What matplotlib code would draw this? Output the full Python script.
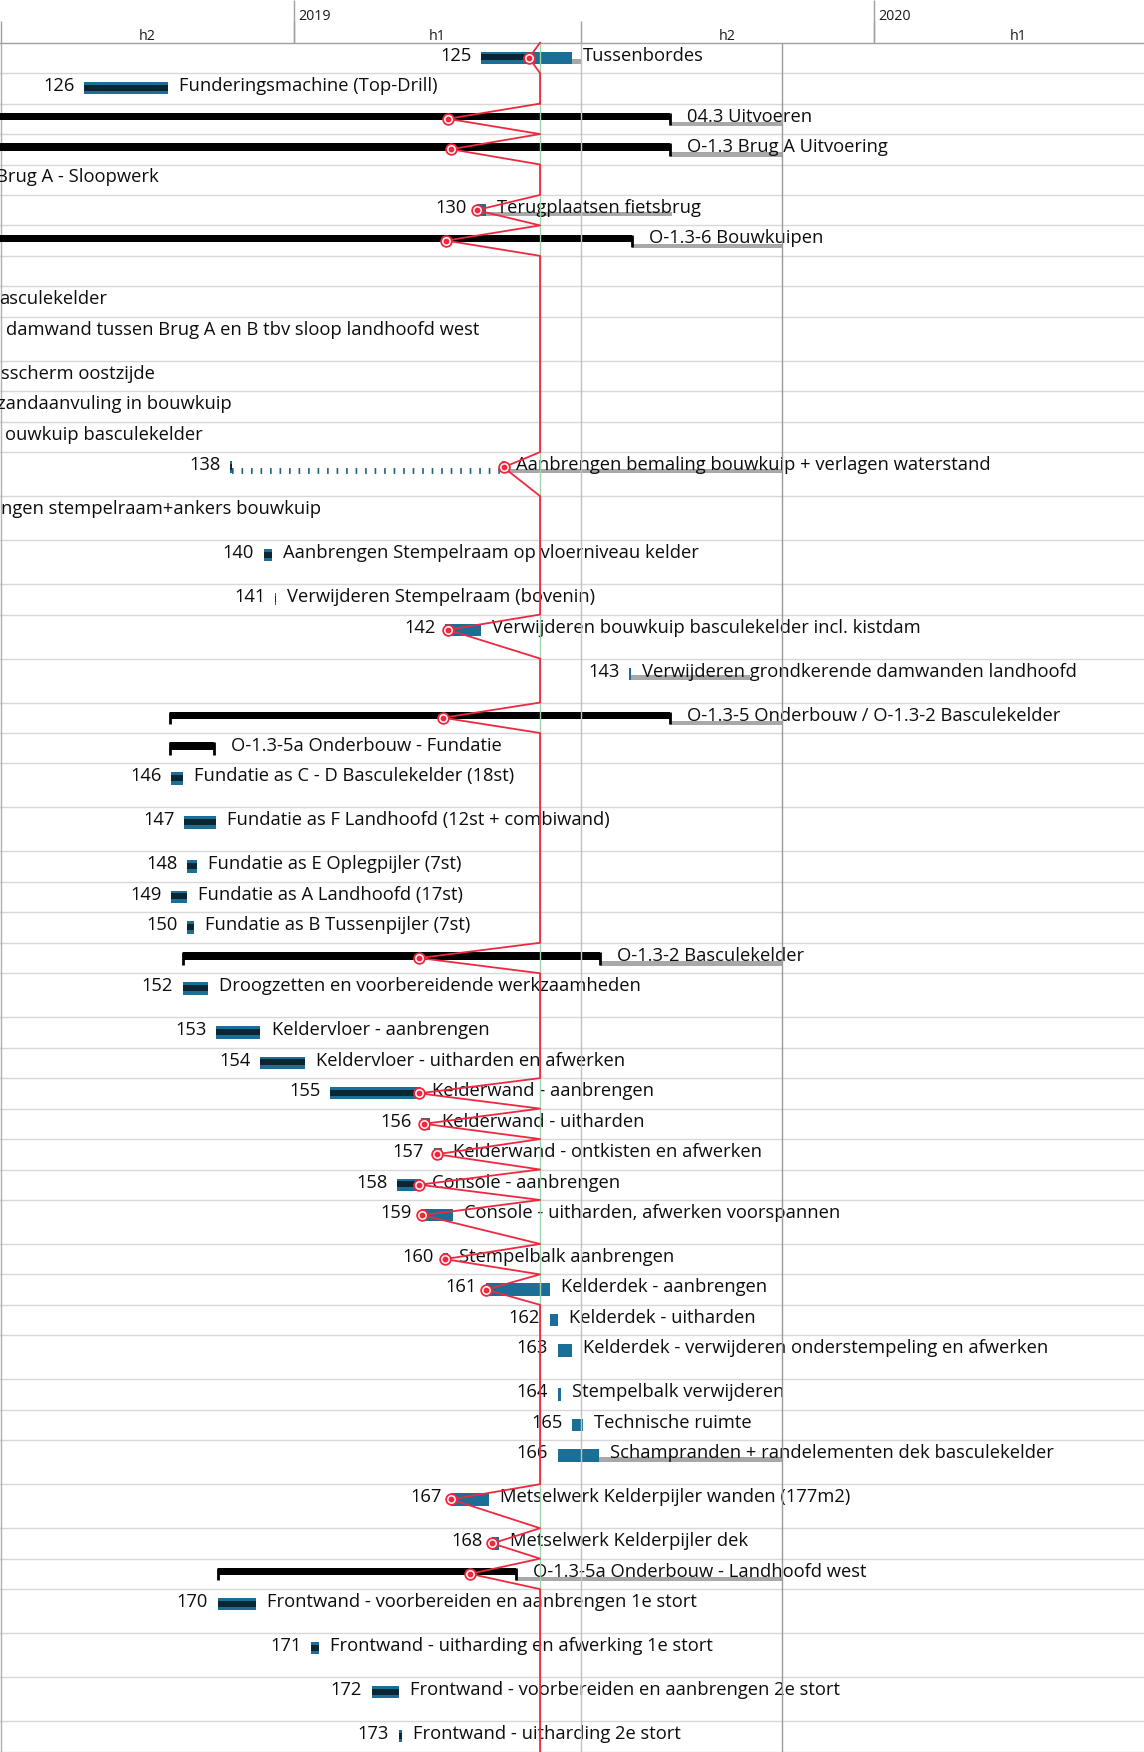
import matplotlib.pyplot as plt
import numpy as np

plt.rcParams['font.family'] = ['Open Sans', 'DejaVu Sans']

# ---- schedule data (read from the tracking gantt) ----
status_date = '2019-06-05'

ids = ['125', '126', '', '', '', '130', '', '', '', '', '', '', '', '138', '',
       '140', '141', '142', '143', '', '', '146', '147', '148', '149', '150', '',
       '152', '153', '154', '155', '156', '157', '158', '159', '160', '161', '162',
       '163', '164', '165', '166', '167', '168', '', '170', '171', '172', '173']

names = ['Tussenbordes', 'Funderingsmachine (Top-Drill)', '04.3 Uitvoeren',
         'O-1.3 Brug A Uitvoering', 'Brug A - Sloopwerk', 'Terugplaatsen fietsbrug',
         'O-1.3-6 Bouwkuipen', '', 'asculekelder',
         'damwand tussen Brug A en B tbv sloop landhoofd west', 'sscherm oostzijde',
         'zandaanvuling in bouwkuip', 'ouwkuip basculekelder',
         'Aanbrengen bemaling bouwkuip + verlagen waterstand',
         'ngen stempelraam+ankers bouwkuip',
         'Aanbrengen Stempelraam op vloerniveau kelder',
         'Verwijderen Stempelraam (bovenin)',
         'Verwijderen bouwkuip basculekelder incl. kistdam',
         'Verwijderen grondkerende damwanden landhoofd',
         'O-1.3-5 Onderbouw / O-1.3-2 Basculekelder', 'O-1.3-5a Onderbouw - Fundatie',
         'Fundatie as C - D Basculekelder (18st)',
         'Fundatie as F Landhoofd (12st + combiwand)',
         'Fundatie as E Oplegpijler (7st)', 'Fundatie as A Landhoofd (17st)',
         'Fundatie as B Tussenpijler (7st)', 'O-1.3-2 Basculekelder',
         'Droogzetten en voorbereidende werkzaamheden', 'Keldervloer - aanbrengen',
         'Keldervloer - uitharden en afwerken', 'Kelderwand - aanbrengen',
         'Kelderwand - uitharden', 'Kelderwand - ontkisten en afwerken',
         'Console - aanbrengen', 'Console - uitharden, afwerken voorspannen',
         'Stempelbalk aanbrengen', 'Kelderdek - aanbrengen', 'Kelderdek - uitharden',
         'Kelderdek - verwijderen onderstempeling en afwerken',
         'Stempelbalk verwijderen', 'Technische ruimte',
         'Schampranden + randelementen dek basculekelder',
         'Metselwerk Kelderpijler wanden (177m2)', 'Metselwerk Kelderpijler dek',
         'O-1.3-5a Onderbouw - Landhoofd west',
         'Frontwand - voorbereiden en aanbrengen 1e stort',
         'Frontwand - uitharding en afwerking 1e stort',
         'Frontwand - voorbereiden en aanbrengen 2e stort',
         'Frontwand - uitharding 2e stort']

kinds = ['task', 'task', 'sum', 'sum', 'sum', 'task', 'sum', 'none', 'sum',
         'task', 'task', 'task', 'task', 'task', 'task', 'task', 'task', 'task',
         'task', 'sum', 'sum', 'task', 'task', 'task', 'task', 'task', 'sum',
         'task', 'task', 'task', 'task', 'task', 'task', 'task', 'task', 'task',
         'task', 'task', 'task', 'task', 'task', 'task', 'task', 'task', 'sum',
         'task', 'task', 'task', 'task']

starts = ['2019-04-29', '2018-08-22', '2017-09-01', '2017-09-01', '2017-09-01',
          '2019-04-26', '2017-09-01', None, '2017-09-01', '2018-01-01',
          '2018-01-01', '2018-01-01', '2018-01-01', '2018-11-22', '2018-01-01',
          '2018-12-13', '2018-12-20', '2019-04-06', '2019-07-31', '2018-10-15',
          '2018-10-15', '2018-10-16', '2018-10-24', '2018-10-26', '2018-10-16',
          '2018-10-26', '2018-10-23', '2018-10-23', '2018-11-13', '2018-12-11',
          '2019-01-24', '2019-03-22', '2019-03-30', '2019-03-07', '2019-03-22',
          '2019-04-05', '2019-05-02', '2019-06-11', '2019-06-16', '2019-06-16',
          '2019-06-25', '2019-06-16', '2019-04-10', '2019-05-06', '2018-11-14',
          '2018-11-14', '2019-01-12', '2019-02-19', '2019-03-08']

ends = ['2019-06-25', '2018-10-14', '2019-08-26', '2019-08-26', '2018-06-17',
        '2019-05-02', '2019-08-02', None, '2018-06-19', '2018-06-27',
        '2018-06-24', '2018-06-21', '2018-06-26', '2019-05-14', '2018-06-24',
        '2018-12-18', '2018-12-21', '2019-04-29', '2019-08-01', '2019-08-26',
        '2018-11-12', '2018-10-23', '2018-11-13', '2018-11-01', '2018-10-26',
        '2018-10-30', '2019-07-13', '2018-11-08', '2018-12-11', '2019-01-08',
        '2019-03-22', '2019-03-28', '2019-04-04', '2019-03-22', '2019-04-11',
        '2019-04-08', '2019-06-11', '2019-06-16', '2019-06-25', '2019-06-18',
        '2019-07-02', '2019-07-12', '2019-05-04', '2019-05-10', '2019-05-21',
        '2018-12-08', '2019-01-17', '2019-03-08', '2019-03-10']

# date up to which the work is complete
done = ['2019-05-29', '2018-10-14', '2019-04-08', '2019-04-10', '2018-06-17',
        '2019-04-26', '2019-04-07', None, '2018-06-19', '2018-06-27',
        '2018-06-24', '2018-06-21', '2018-06-26', '2019-05-13', '2018-06-24',
        '2018-12-18', '2018-12-21', '2019-04-08', '2019-07-31', '2019-04-05',
        '2018-11-12', '2018-10-23', '2018-11-13', '2018-11-01', '2018-10-26',
        '2018-10-30', '2019-03-21', '2018-11-08', '2018-12-11', '2019-01-08',
        '2019-03-21', '2019-03-24', '2019-04-01', '2019-03-21', '2019-03-23',
        '2019-04-06', '2019-05-02', '2019-06-11', '2019-06-16', '2019-06-16',
        '2019-06-25', '2019-06-16', '2019-04-10', '2019-05-06', '2019-04-22',
        '2018-12-08', '2019-01-17', '2019-03-08', '2019-03-10']

slack_end = ['2019-07-01', None, '2019-11-04', '2019-11-04', None, '2019-08-27',
             '2019-11-04', None, None, None, None, None, None, '2019-11-04', None,
             None, None, None, '2019-10-15', '2019-11-04', None, None, None, None,
             None, None, '2019-11-04', None, None, None, None, None, None, None,
             None, None, None, None, None, None, None, '2019-11-04', None, None,
             '2019-11-04', None, None, None, None]

split_ids = ['138']
split_gaps = [('2018-11-23', '2019-05-12')]

years = ['2019', '2020']
half_starts = ['2018-07-01', '2019-01-01', '2019-07-01', '2020-01-01', '2020-07-01']
half_labels = ['h2', 'h1', 'h2', 'h1']
body_lines = ['2019-07-01', '2019-11-04']

# ---- layout ----
W, H = 1144, 1752
HEADER = 42.7
ROW, TALL = 30.45, 44.0
tall_rows = {9, 13, 14, 15, 17, 18, 21, 22, 27, 34, 38, 41, 42, 45, 46, 47}

BLUE = '#1b6f96'
DARK = '#0a2633'
GRAY = '#a8a8a8'
RED = '#f0283f'
INK = '#0d0d0d'
FS = 13.2

base = np.datetime64('2019-01-01')


def day(s):
    return float((np.datetime64(s) - base) / np.timedelta64(1, 'D'))


heights = [TALL if i in tall_rows else ROW for i in range(len(names))]
tops = HEADER + np.concatenate([[0], np.cumsum(heights)[:-1]])

fig = plt.figure(figsize=(W / 100, H / 100), dpi=100)
ax = fig.add_axes([0, 0, 1, 1])
ax.set_xlim(-184.9, 535.1)
ax.set_ylim(H, 0)
ax.axis('off')

# row grid
for t, h in zip(tops, heights):
    ax.axhline(t + h, color='#d8d8d8', lw=1.0, zorder=0)
ax.axhline(HEADER, color='#a0a0a0', lw=1.0, zorder=1)

# timescale header
for y in years:
    ax.vlines(day(y + '-01-01'), 0, HEADER, color='#a0a0a0', lw=1.0)
    ax.annotate(y, (day(y + '-01-01'), 20.5), xytext=(3.5, 0),
                textcoords='offset points', fontsize=10.3, va='baseline',
                color='#1a1a1a')
for a, b, lab in zip(half_starts[:-1], half_starts[1:], half_labels):
    ax.vlines(day(a), 21, HEADER, color='#a0a0a0', lw=1.0)
    ax.text((day(a) + day(b)) / 2, 40.5, lab, fontsize=10.3, ha='center',
            va='baseline', color='#1a1a1a')
ax.vlines(day(half_starts[0]), HEADER, H, color='#b0b0b0', lw=1.0, zorder=1)

status = day(status_date)
red_x, red_y = [status], [HEADER]

for i, kind in enumerate(kinds):
    top, h = tops[i], heights[i]
    red_x.append(status)
    red_y.append(top)
    if kind == 'none':
        red_x.append(status)
        red_y.append(top + h)
        continue
    s, e, dn = day(starts[i]), day(ends[i]), day(done[i])
    if kind == 'sum':
        if slack_end[i]:
            ax.broken_barh([(e, day(slack_end[i]) - e)], (top + 18.4, 4.3),
                           facecolor=GRAY, zorder=2)
        ax.broken_barh([(s, e - s)], (top + 9.4, 7.3), facecolor='black', zorder=3)
        ax.vlines([s, e], top + 9.4, top + 21.7, color='black', lw=2.0, zorder=3)
        gap = 12.2
    else:
        if slack_end[i]:
            ax.broken_barh([(e, day(slack_end[i]) - e)], (top + 16.6, 4.7),
                           facecolor=GRAY, zorder=2)
        if ids[i] in split_ids:
            a, b = split_gaps[split_ids.index(ids[i])]
            segs = [(s, day(a)), (day(b), e)]
            ax.plot([day(a), day(b)], [top + 18.5, top + 18.5], color='#1f5f78',
                    lw=4.2, linestyle=(0, (0.28, 1.35)), dash_capstyle='butt',
                    zorder=3)
        else:
            segs = [(s, s + max(e - s, 1.0))]
        ax.broken_barh([(p, q - p) for p, q in segs], (top + 9, 12.3),
                       facecolor=BLUE, zorder=3)
        prog = [(p, min(q, dn) - p) for p, q in segs if dn > p]
        if prog:
            ax.broken_barh(prog, (top + 11.5, 6), facecolor=DARK, zorder=4)
        gap = 8.0
    if ids[i]:
        ax.annotate(ids[i], (s, top + 18), xytext=(-6.8, 0),
                    textcoords='offset points', ha='right', va='baseline',
                    fontsize=FS, color=INK, zorder=5, annotation_clip=False)
    ax.annotate(names[i], (e, top + 18), xytext=(gap, 0),
                textcoords='offset points', ha='left', va='baseline',
                fontsize=FS, color=INK, zorder=5, annotation_clip=False)
    if dn < status and dn < e:
        red_x.append(dn)
        red_y.append(top + 15.2)
        ax.plot(dn, top + 15.2, 'o', ms=7.7, mfc='white', mec=RED, mew=1.3,
                zorder=8)
        ax.plot(dn, top + 15.2, 'o', ms=3.2, color=RED, zorder=9)
    red_x.append(status)
    red_y.append(top + h)

# date lines in the chart body
ax.vlines([day(d) for d in body_lines], HEADER, H, colors=['#c2c2c2', '#9a9a9a'],
          lw=1.0, zorder=6)
ax.vlines(status, HEADER, H, color='#9fd4aa', lw=1.0, zorder=6)

# progress line
ax.plot(red_x, red_y, color=RED, lw=1.3, zorder=7)

fig.savefig('out.png', dpi=100)
